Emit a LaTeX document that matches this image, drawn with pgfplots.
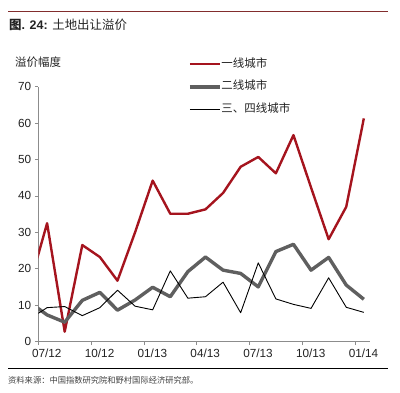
\documentclass[border=0pt]{standalone}
\usepackage{fontspec}
\setmainfont{Liberation Sans}
\newfontfamily\cjk{Noto Sans CJK SC}
\usepackage{pgfplots}
\pgfplotsset{compat=1.18}
\definecolor{nred}{RGB}{165,20,30}
\definecolor{ngray}{RGB}{95,95,95}
\definecolor{rulered}{RGB}{130,45,45}
\definecolor{txt}{RGB}{35,35,35}
\definecolor{axgray}{RGB}{140,140,140}

\begin{document}
\begin{tikzpicture}[x=1bp,y=1bp]
\useasboundingbox (0,0) rectangle (400,393);
\draw[rulered, line width=0.9bp] (8,381.3) -- (388,381.3);
\node[anchor=west, inner sep=0, text=txt] at (9,368) {\fontsize{12.5}{14}\selectfont{\cjk\bfseries 图}\textbf{. 24:} {\cjk 土地出让溢价}};
\node[anchor=west, inner sep=0, text=txt] at (15,331) {\fontsize{11.5}{13}\selectfont\cjk 溢价幅度};
\begin{axis}[
  at={(38.3bp,51.5bp)}, anchor=south west,
  scale only axis, width=331.7bp, height=254.8bp,
  xmin=0, xmax=18.85, ymin=0, ymax=70,
  axis lines=left,
  axis line style={-, draw=axgray, line width=0.7bp},
  tick align=outside,
  major tick length=3.5bp,
  tick style={draw=axgray, line width=0.7bp},
  xtick={0,3,...,18},
  xticklabels={07/12,10/12,01/13,04/13,07/13,10/13,01/14},
  xticklabel style={xshift=8.5bp},
  ytick={0,10,...,70},
  tick label style={font=\fontsize{11.8}{13}\selectfont, text=txt},
  /pgf/number format/assume math mode=true,
  legend style={at={(rel axis cs:0.451,0.999)}, anchor=west, draw=none, fill=none,
    inner sep=0pt, row sep=11.2bp,
    font=\fontsize{11.5}{13}\selectfont\cjk,
    nodes={inner sep=0pt, text height=8.5bp, text depth=3bp, text=txt},
    /tikz/every even column/.append style={column sep=4bp}},
  legend image code/.code={\draw[#1] (0bp,0bp) -- (30bp,0bp);},
  legend cell align=left,
]
\addplot[nred, line width=2.4bp, line join=round] table {
x y
-0.5 15.3
0.5 32.5
1.5 2.7
2.5 26.5
3.5 23.2
4.5 16.7
5.5 30.0
6.5 44.2
7.5 35.1
8.5 35.1
9.5 36.3
10.5 40.8
11.5 48.0
12.5 50.7
13.5 46.2
14.5 56.7
15.5 42.3
16.5 28.1
17.5 37.0
18.5 61.3
};
\addlegendentry{一线城市}
\addplot[ngray, line width=3.4bp, line join=round] table {
x y
-0.5 10.8
0.5 7.3
1.5 5.3
2.5 11.3
3.5 13.5
4.5 8.6
5.5 11.4
6.5 14.9
7.5 12.3
8.5 19.2
9.5 23.2
10.5 19.6
11.5 18.7
12.5 15.0
13.5 24.7
14.5 26.7
15.5 19.6
16.5 23.1
17.5 15.5
18.5 11.6
};
\addlegendentry{二线城市}
\addplot[black, line width=0.9bp, line join=round] table {
x y
-0.5 6.2
0.5 9.3
1.5 9.6
2.5 7.1
3.5 9.3
4.5 14.1
5.5 9.7
6.5 8.7
7.5 19.4
8.5 11.9
9.5 12.3
10.5 16.3
11.5 7.9
12.5 21.6
13.5 11.7
14.5 10.2
15.5 9.1
16.5 17.5
17.5 9.4
18.5 8.0
};
\addlegendentry{三、四线城市}
\end{axis}
\draw[black, line width=0.8bp] (8,24.7) -- (388,24.7);
\node[anchor=west, inner sep=0, text=darkgray] at (8,13) {\fontsize{8.3}{10}\selectfont\cjk 资料来源：中国指数研究院和野村国际经济研究部。};
\end{tikzpicture}
\end{document}
